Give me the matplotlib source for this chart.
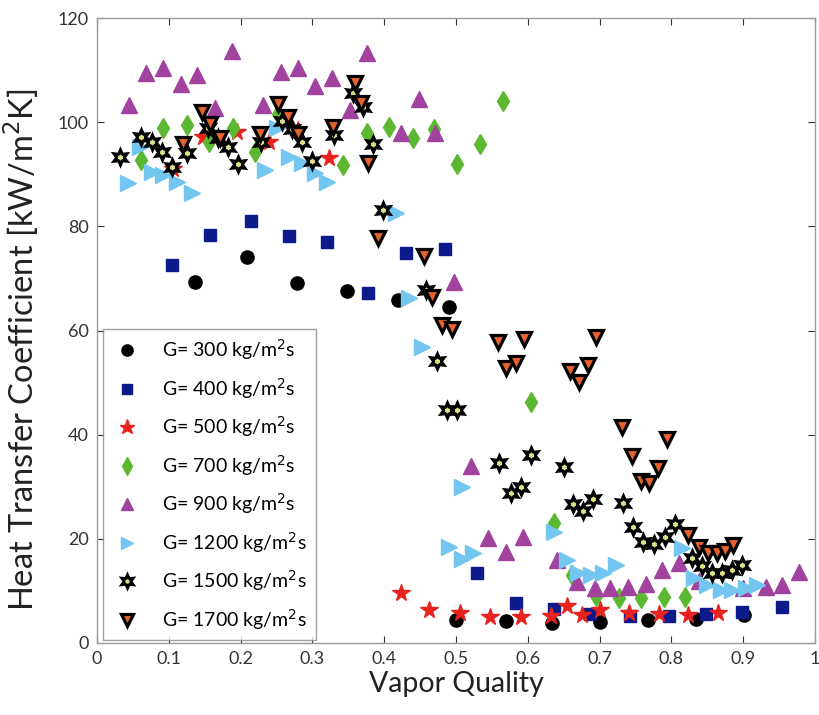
import matplotlib
matplotlib.use("Agg")
import matplotlib.pyplot as plt
from matplotlib.markers import MarkerStyle
from matplotlib.legend_handler import HandlerTuple

plt.rcParams["font.family"] = ["Lato", "DejaVu Sans"]

# ── Data: heat transfer coefficient [kW/m2K] vs vapor quality ─────────
x_300 = [0.136, 0.209, 0.278, 0.348, 0.419, 0.490, 0.500, 0.569, 0.634, 0.700, 0.768, 0.834, 0.901]
h_300 = [69.3, 74.1, 69.1, 67.5, 65.8, 64.5, 4.4, 4.2, 3.9, 4.0, 4.4, 4.6, 5.4]

x_400 = [0.104, 0.157, 0.214, 0.267, 0.321, 0.377, 0.431, 0.485, 0.529, 0.584, 0.636,
         0.687, 0.743, 0.796, 0.848, 0.899, 0.954]
h_400 = [72.5, 78.3, 81.0, 78.1, 77.0, 67.2, 74.9, 75.6, 13.4, 7.6, 6.5,
         5.6, 5.2, 5.2, 5.6, 6.0, 6.9]

x_500 = [0.106, 0.147, 0.195, 0.239, 0.280, 0.323, 0.424, 0.463, 0.505, 0.547, 0.590,
         0.633, 0.655, 0.676, 0.700, 0.741, 0.783, 0.823, 0.865]
h_500 = [91.0, 97.1, 98.2, 96.2, 98.5, 93.1, 9.6, 6.3, 5.7, 5.0, 5.0,
         5.2, 7.1, 5.4, 6.3, 5.8, 5.6, 5.4, 5.7]

x_700 = [0.061, 0.092, 0.125, 0.156, 0.189, 0.220, 0.252, 0.343, 0.376, 0.406, 0.440,
         0.470, 0.502, 0.534, 0.565, 0.604, 0.636, 0.662, 0.695, 0.727, 0.758, 0.789, 0.819]
h_700 = [92.7, 98.8, 99.4, 96.2, 98.8, 94.2, 101.5, 91.7, 97.9, 99.0, 96.9,
         98.6, 91.9, 95.8, 104.0, 46.3, 23.0, 13.0, 9.0, 8.6, 8.6, 8.8, 8.8]

x_900 = [0.045, 0.068, 0.092, 0.117, 0.139, 0.164, 0.188, 0.231, 0.256, 0.280, 0.303,
         0.327, 0.352, 0.376, 0.424, 0.449, 0.471, 0.497, 0.521, 0.545, 0.570, 0.594,
         0.640, 0.668, 0.693, 0.715, 0.739, 0.764, 0.787, 0.811, 0.838, 0.900, 0.932,
         0.954, 0.978]
h_900 = [103.3, 109.4, 110.4, 107.3, 109.0, 102.7, 113.6, 103.3, 109.6, 110.4, 107.0,
         108.4, 102.3, 113.2, 97.9, 104.4, 97.9, 69.3, 34.0, 20.1, 17.5, 20.3,
         15.9, 11.7, 10.6, 10.6, 10.8, 11.3, 14.0, 15.4, 12.0, 10.5, 10.8,
         11.1, 13.6]

x_1200 = [0.043, 0.060, 0.076, 0.092, 0.111, 0.132, 0.234, 0.250, 0.267, 0.285, 0.303,
          0.320, 0.417, 0.435, 0.453, 0.508, 0.490, 0.508, 0.524, 0.637, 0.655, 0.670,
          0.688, 0.705, 0.723, 0.815, 0.832, 0.850, 0.869, 0.885, 0.904, 0.919]
h_1200 = [88.3, 95.2, 90.4, 89.8, 88.5, 86.4, 90.8, 98.8, 93.3, 92.1, 90.2,
          88.5, 82.5, 66.2, 56.8, 29.9, 18.5, 16.2, 17.2, 21.3, 15.9, 13.4,
          13.0, 13.4, 15.0, 18.2, 12.5, 11.1, 10.2, 10.2, 10.6, 11.1]

x_1500 = [0.032, 0.061, 0.076, 0.090, 0.104, 0.125, 0.154, 0.168, 0.182, 0.197, 0.229,
          0.257, 0.271, 0.285, 0.300, 0.330, 0.356, 0.370, 0.384, 0.399, 0.458, 0.473,
          0.487, 0.502, 0.560, 0.576, 0.590, 0.604, 0.650, 0.663, 0.677, 0.691, 0.733,
          0.747, 0.761, 0.776, 0.791, 0.805, 0.829, 0.843, 0.857, 0.871, 0.885, 0.898]
h_1500 = [93.3, 97.1, 96.1, 94.3, 91.4, 94.1, 98.8, 97.0, 95.2, 92.0, 96.2,
          100.2, 98.6, 96.2, 92.5, 97.5, 105.6, 103.0, 95.8, 83.1, 67.8, 54.1,
          44.7, 44.7, 34.5, 28.8, 29.9, 36.1, 33.8, 26.7, 25.3, 27.6, 26.9,
          22.3, 19.4, 19.0, 20.3, 22.8, 16.3, 14.7, 13.4, 13.4, 14.0, 15.0]

x_1700 = [0.120, 0.146, 0.157, 0.171, 0.227, 0.252, 0.266, 0.280, 0.328, 0.359, 0.367,
          0.377, 0.391, 0.455, 0.467, 0.481, 0.494, 0.559, 0.570, 0.584, 0.595, 0.659,
          0.672, 0.684, 0.695, 0.731, 0.745, 0.757, 0.769, 0.781, 0.794, 0.823, 0.839,
          0.851, 0.863, 0.875, 0.886]
h_1700 = [95.8, 101.9, 99.6, 96.9, 97.7, 103.5, 100.9, 97.8, 99.1, 107.6, 103.7,
          92.1, 77.7, 74.3, 66.4, 61.0, 60.3, 57.8, 52.8, 53.7, 58.3, 52.2,
          50.1, 53.4, 58.7, 41.5, 35.9, 31.1, 30.7, 33.6, 39.2, 20.7, 18.5,
          17.2, 17.2, 17.6, 18.8]

labels = ["G= 300 kg/m$^2$s", "G= 400 kg/m$^2$s", "G= 500 kg/m$^2$s",
          "G= 700 kg/m$^2$s", "G= 900 kg/m$^2$s", "G= 1200 kg/m$^2$s",
          "G= 1500 kg/m$^2$s", "G= 1700 kg/m$^2$s"]

# ── Figure ────────────────────────────────────────────────────────────
fig = plt.figure(figsize=(8.2, 7.15), dpi=100)
ax = fig.add_axes([0.1183, 0.1007, 0.8756, 0.8741])

h1, = ax.plot(x_300, h_300, "o", ms=9.5, color="black", ls="none")
h2, = ax.plot(x_400, h_400, "s", ms=9.0, color="#0d1a8c", ls="none")
h3, = ax.plot(x_500, h_500, "*", ms=13, color="#e8221c", ls="none")
h4, = ax.plot(x_700, h_700, "d", ms=10.5, color="#5cb830", ls="none")
h5, = ax.plot(x_900, h_900, "^", ms=11, color="#a0429e", ls="none")
h6, = ax.plot(x_1200, h_1200, ">", ms=11, color="#72c6f0", ls="none")
# 1500: black six-point star with a small pale centre
star6 = MarkerStyle((6, 1, 0), joinstyle="miter")
h7a, = ax.plot(x_1500, h_1500, marker=star6, ms=10.5, mfc="white", mec="black",
               mew=2.3, ls="none")
h7b, = ax.plot(x_1500, h_1500, "o", ms=2.4, mfc="#dfe27a", mec="#dfe27a", ls="none")
h8, = ax.plot(x_1700, h_1700, "v", ms=10, mfc="#e5622c", mec="black", mew=2.3, ls="none")

ax.set_xlim(0, 1)
ax.set_ylim(0, 120)
ax.set_xticks([i / 10 for i in range(11)])
ax.set_xticklabels(["0", "0.1", "0.2", "0.3", "0.4", "0.5", "0.6", "0.7", "0.8", "0.9", "1"])
ax.set_yticks(range(0, 121, 20))
ax.tick_params(direction="in", top=True, right=True, labelsize=13, colors="#333333",
               length=5, width=0.8, pad=6)
for sp in ax.spines.values():
    sp.set_color("#9a9a9a")
    sp.set_linewidth(1.0)

ax.set_xlabel("Vapor Quality", fontsize=20.5, color="#222222", labelpad=3)
ax.set_ylabel("Heat Transfer Coefficient [kW/m$^2$K]", fontsize=23.5, color="#222222")
ax.yaxis.set_label_coords(-0.078, 0.47)

leg = ax.legend([h1, h2, h3, h4, h5, h6, (h7a, h7b), h8], labels,
                handler_map={tuple: HandlerTuple(ndivide=1)},
                loc="lower left", bbox_to_anchor=(0.008, 0.004),
                fontsize=14, frameon=True, fancybox=False, edgecolor="#8a8a8a",
                labelspacing=0.7, handletextpad=1.0, handlelength=1.6,
                borderpad=0.45, markerscale=0.85, borderaxespad=0)
leg.get_frame().set_linewidth(1.0)

fig.savefig("out.png", dpi=100)
